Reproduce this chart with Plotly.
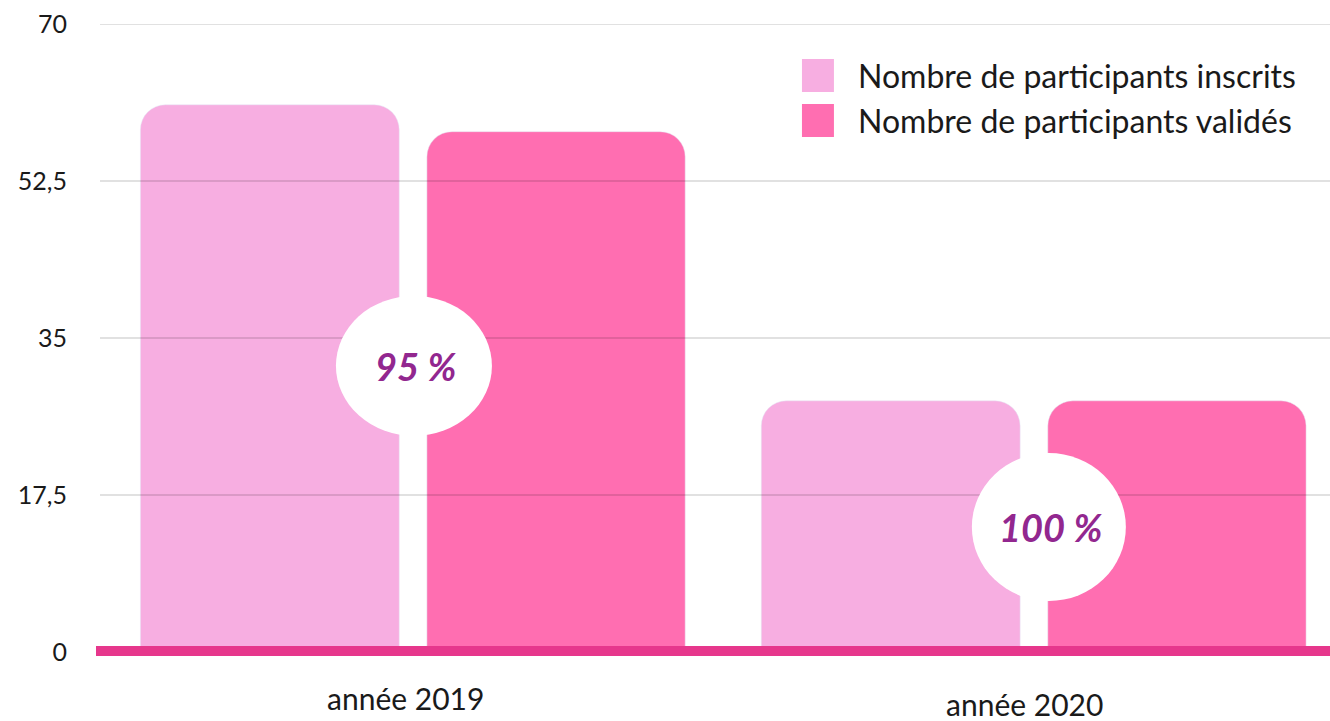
import plotly.graph_objects as go

# ---- data ----
categories = ["année 2019", "année 2020"]
inscrits = [61, 28]
valides = [58, 28]
series_names = ["Nombre de participants inscrits", "Nombre de participants validés"]
tick_vals = [0, 17.5, 35, 52.5, 70]
tick_text = ["0", "17,5", "35", "52,5", "70"]

# ---- style ----
C_INS = "#F7AEE1"
C_VAL = "#FF6EB1"
C_BASE = "#E6378C"
C_PCT = "#92278F"
FONT = "Lato"
TXT = "#1a1a1a"

pcts = [f"{round(v / i * 100)} %" for v, i in zip(valides, inscrits)]
xpos = list(range(len(categories)))

fig = go.Figure()
fig.add_trace(go.Bar(x=xpos, y=inscrits, name=series_names[0], marker=dict(color=C_INS, cornerradius=25),
                     offset=-0.439, width=0.417, showlegend=False))
fig.add_trace(go.Bar(x=xpos, y=valides, name=series_names[1], marker=dict(color=C_VAL, cornerradius=25),
                     offset=0.0225, width=0.416, showlegend=False))

shapes = []
# gridlines drawn above bars
for tv in tick_vals[1:]:
    shapes.append(dict(type="line", xref="paper", yref="y", x0=0, x1=1, y0=tv, y1=tv,
                       line=dict(color="rgba(0,0,0,0.24)", width=1), layer="above"))
# thick baseline (paper-referenced so it is not clipped by the plot area)
shapes.append(dict(type="line", xref="paper", yref="paper", x0=-0.00325, x1=1, y0=0.0016, y1=0.0016,
                   line=dict(color=C_BASE, width=10), layer="above"))

# circles with percentages
circ = [(0.0016, 31.9, 78, 70), (1.0242, 13.93, 77, 74)]
txtpos = [(0.0049, 31.9), (1.0274, 13.9)]
for (cx, cy, rx, ry) in circ:
    shapes.append(dict(type="circle", xref="x", yref="y", xsizemode="pixel", ysizemode="pixel",
                       xanchor=cx, yanchor=cy, x0=-rx, x1=rx, y0=-ry, y1=ry,
                       fillcolor="white", line=dict(width=0), layer="above"))

annotations = []
for (tx, ty), p in zip(txtpos, pcts):
    annotations.append(dict(x=tx, y=ty, xref="x", yref="y", text=p, showarrow=False,
                            font=dict(family=FONT, size=38, color=C_PCT, weight="bold", style="italic")))

# category labels
catpos = [(-0.0113, -46), (0.9847, -52)]
for (cx, ys), c in zip(catpos, categories):
    annotations.append(dict(x=cx, y=0, xref="x", yref="y", yshift=ys, text=c, showarrow=False,
                            font=dict(family=FONT, size=30, color=TXT)))

# custom legend
leg = [(0.9443, 0.8917, 0.918, C_INS, series_names[0]), (0.8726, 0.8201, 0.8463, C_VAL, series_names[1])]
for (y0, y1, yt, col, name) in leg:
    shapes.append(dict(type="rect", xref="paper", yref="paper", x0=0.5707, x1=0.5967, y0=y1, y1=y0,
                       fillcolor=col, line=dict(width=0)))
    annotations.append(dict(x=0.6146, y=yt, xref="paper", yref="paper", xanchor="left", yanchor="middle",
                            text=name, showarrow=False, font=dict(family=FONT, size=32, color=TXT)))

fig.update_layout(
    width=1330, height=721,
    margin=dict(l=100, r=0, t=24, b=69),
    paper_bgcolor="white", plot_bgcolor="white",
    shapes=shapes, annotations=annotations,
    barmode="overlay",
    xaxis=dict(range=[-0.504, 1.477], showticklabels=False, showgrid=False, zeroline=False, fixedrange=True),
    yaxis=dict(range=[0, 70], tickvals=tick_vals, ticktext=tick_text, showgrid=False, zeroline=False,
               ticks="", ticklabelstandoff=32, tickfont=dict(family=FONT, size=25, color=TXT)),
)

fig.write_html("out.html", config={"displayModeBar": False},
               post_script="document.body.style.margin='0';document.body.style.overflow='hidden';")
